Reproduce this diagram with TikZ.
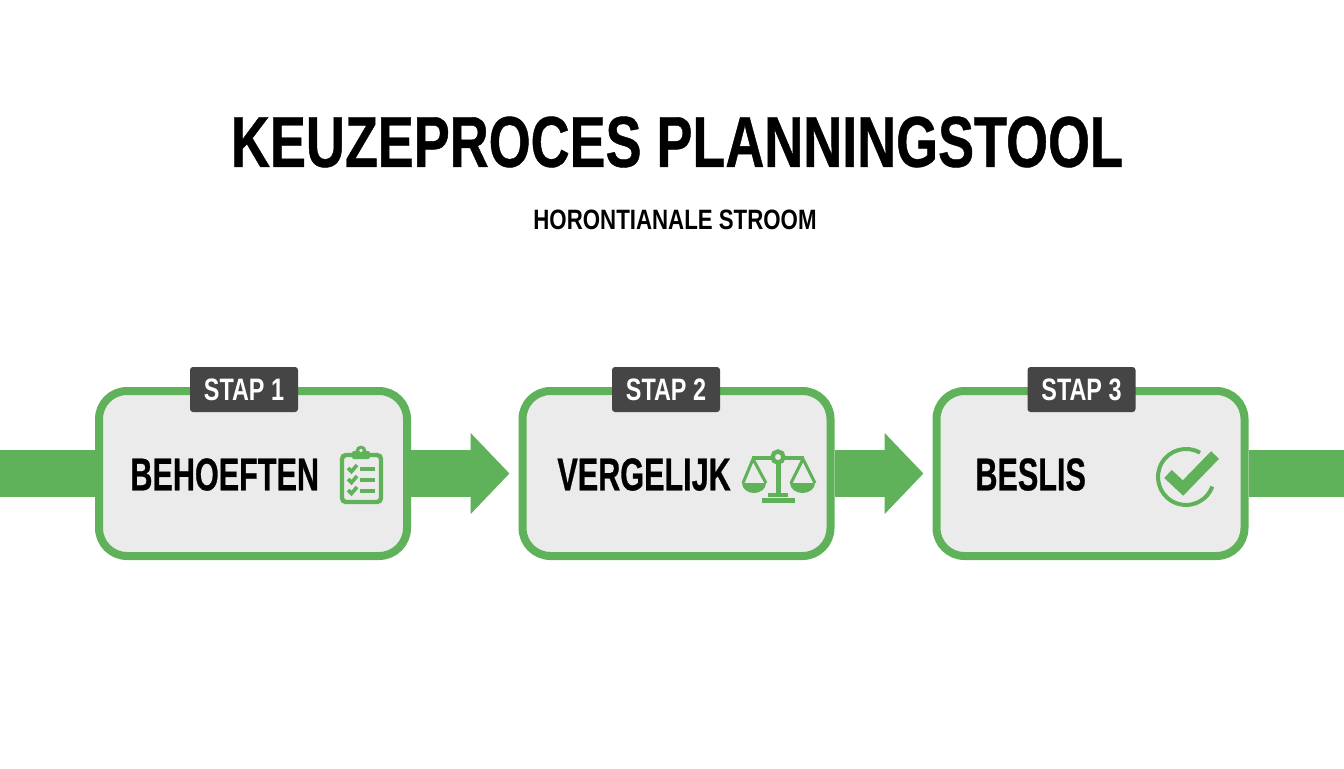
\documentclass[tikz,border=0pt]{standalone}
\usepackage{fontspec}
\newfontfamily\headfont[FakeStretch=0.749,FakeBold=0.6]{Liberation Sans Bold}
\newfontfamily\labelfont[FakeStretch=0.665,FakeBold=0.6]{Liberation Sans Bold}
\newfontfamily\subfont[FakeStretch=0.795]{Liberation Sans Bold}
\newfontfamily\tagfont[FakeStretch=0.755]{Liberation Sans Bold}
\usetikzlibrary{arrows.meta}
\definecolor{stepgreen}{HTML}{5FB259}
\definecolor{tagdark}{HTML}{454545}
\definecolor{boxgrey}{HTML}{EBEBEB}
\tikzstyle{flow} = [stepgreen,line width=23.5pt,-{Triangle[length=19.5pt,width=39.5pt]},shorten >=4.5pt]
\tikzstyle{band} = [stepgreen,line width=23.5pt]
\tikzstyle{stepbox} = [draw=stepgreen,fill=boxgrey,line width=4pt,rounded corners=14pt,minimum width=154pt,minimum height=82.5pt]
\tikzstyle{steptag} = [fill=tagdark,text=white,rounded corners=1.5pt,minimum width=54pt,minimum height=22.5pt,inner sep=0pt,font=\tagfont\fontsize{15.5}{18}\selectfont]
\tikzstyle{steplabel} = [anchor=west,inner sep=0pt,font=\labelfont\fontsize{23}{26}\selectfont]
\tikzstyle{icon} = [stepgreen,line width=2.2pt]

\begin{document}
\begin{tikzpicture}[x=0.5pt,y=-0.5pt]
    \useasboundingbox (0,0) rectangle (1344,768);
    \fill[white] (0,0) rectangle (1344,768);

    \node[font=\headfont\fontsize{36}{42}\selectfont] (title) at (677,142) {KEUZEPROCES PLANNINGSTOOL};
    \node[font=\subfont\fontsize{14}{17}\selectfont] (subtitle) at (675,219.5) {HORONTIANALE STROOM};

    \coordinate (lend) at (0,473.5);
    \coordinate (rend) at (1344,473.5);

    \node[stepbox] (behoefte) at (253,473.5) {};
    \node[stepbox] (vergelijk) at (676.5,473.5) {};
    \node[stepbox] (beslis) at (1090.5,473.5) {};

    % Bands
    \draw[band] (lend) to (behoefte);
    \draw[flow] (behoefte) to (vergelijk);
    \draw[flow] (vergelijk) to (beslis);
    \draw[band] (beslis) to (rend);

    \node[steptag] (tag1) at (244,389.5) {STAP 1};
    \node[steptag] (tag2) at (666,389.5) {STAP 2};
    \node[steptag] (tag3) at (1081.5,389.5) {STAP 3};

    \node[steplabel] (label1) at (130,474.5) {BEHOEFTEN};
    \node[steplabel] (label2) at (557,474.5) {VERGELIJK};
    \node[steplabel] (label3) at (975,474.5) {BESLIS};

    % Clipboard
    \draw[icon,rounded corners=2pt] (352,455) -- (342,455) -- (342,502) -- (381,502) -- (381,455) -- (370,455);
    \fill[stepgreen,rounded corners=1pt] (352,459) -- (352,451) -- (370,451) -- (370,459) -- cycle;
    \fill[stepgreen] (361,451) circle (5.5);
    \fill[boxgrey] (361,450.5) circle (1.8);
    \draw[stepgreen,line width=1.8pt] (348,468) -- (351.5,471.5) -- (357,465);
    \draw[stepgreen,line width=1.8pt] (348,479) -- (351.5,482.5) -- (357,476);
    \draw[stepgreen,line width=1.8pt] (348,490) -- (351.5,493.5) -- (357,487);
    \draw[stepgreen,line width=2pt] (360,468.5) -- (375,468.5);
    \draw[stepgreen,line width=2pt] (360,479.5) -- (375,479.5);
    \draw[stepgreen,line width=2pt] (360,490.5) -- (375,490.5);

    % Scales
    \draw[icon] (752,458) -- (804,458);
    \draw[icon,fill=boxgrey] (778,457) circle (5.5);
    \draw[stepgreen,line width=2.5pt] (778,463) -- (778,494);
    \fill[stepgreen] (768,493) rectangle (788,497);
    \fill[stepgreen] (762,498) rectangle (795,503);
    \draw[stepgreen,line width=1.5pt,line join=round] (743,483) -- (753,459) -- (766,483);
    \draw[stepgreen,line width=1.5pt,line join=round] (791,483) -- (803,459) -- (815,483);
    \fill[stepgreen] (766,483) arc[start angle=0,end angle=180,x radius=12,y radius=10] -- cycle;
    \fill[stepgreen] (815,483) arc[start angle=0,end angle=180,x radius=12.5,y radius=10] -- cycle;

    % Check
    \draw[stepgreen,line width=2pt] (1200,452.7) arc[start angle=-60,end angle=-340,radius=28];
    \draw[stepgreen,line width=5.5pt] (1168,474) -- (1183,488) -- (1215,455);
\end{tikzpicture}
\end{document}
